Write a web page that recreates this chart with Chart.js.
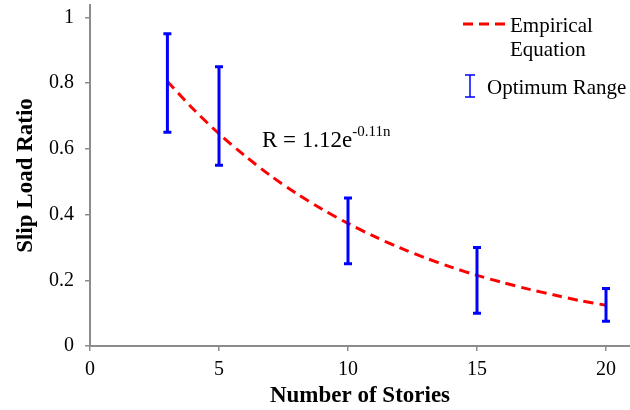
<!DOCTYPE html>
<html>
<head>
<meta charset="utf-8">
<script src="https://cdn.jsdelivr.net/npm/chart.js@4.4.0/dist/chart.umd.min.js"></script>
<style>
  html, body { margin: 0; padding: 0; background: #fff; }
  #wrap { width: 630px; height: 410px; }
</style>
</head>
<body>
<div id="wrap"><canvas id="chart" width="630" height="410"></canvas></div>
<script>
// empirical curve R = 1.12e^-0.11n, read at whole story counts
const curveStories = [3, 4, 5, 6, 7, 8, 9, 10, 11, 12, 13, 14, 15, 16, 17, 18, 19, 20];
const curveRatio = [0.805, 0.721, 0.646, 0.579, 0.518, 0.464, 0.416, 0.373, 0.334, 0.299, 0.268, 0.240, 0.215, 0.193, 0.173, 0.155, 0.138, 0.124];

// optimum range bars
const rangeStories = [3, 5, 10, 15, 20];
const rangeLow = [0.65, 0.55, 0.25, 0.10, 0.075];
const rangeHigh = [0.95, 0.85, 0.45, 0.30, 0.175];

const xTicks = [0, 5, 10, 15, 20];
const yTicks = [0, 0.2, 0.4, 0.6, 0.8, 1];

const serif = "'Liberation Serif', 'Times New Roman', serif";
const axisGrey = '#8c8c8c';

const rangeBars = {
    id: 'rangeBars',
    afterDatasetsDraw(chart) {
        const { ctx, scales: { x, y } } = chart;
        ctx.save();
        ctx.strokeStyle = '#0000ff';
        ctx.lineWidth = 3;
        rangeStories.forEach((n, i) => {
            const px = x.getPixelForValue(n);
            const top = y.getPixelForValue(rangeHigh[i]);
            const bot = y.getPixelForValue(rangeLow[i]);
            ctx.beginPath();
            ctx.moveTo(px, top);
            ctx.lineTo(px, bot);
            ctx.moveTo(px - 4, top);
            ctx.lineTo(px + 4, top);
            ctx.moveTo(px - 4, bot);
            ctx.lineTo(px + 4, bot);
            ctx.stroke();
        });
        ctx.restore();
    }
};

const extras = {
    id: 'extras',
    afterDraw(chart) {
        const ctx = chart.ctx;
        ctx.save();
        ctx.fillStyle = '#000';
        ctx.textBaseline = 'alphabetic';

        // equation label
        ctx.font = '23px ' + serif;
        const base = 'R = 1.12e';
        ctx.fillText(base, 262, 147);
        const w = ctx.measureText(base).width;
        ctx.font = '15px ' + serif;
        ctx.fillText('-0.11n', 262 + w, 136);

        // legend
        ctx.strokeStyle = '#ff0000';
        ctx.lineWidth = 3;
        ctx.setLineDash([10, 6]);
        ctx.beginPath();
        ctx.moveTo(463, 24);
        ctx.lineTo(508, 24);
        ctx.stroke();
        ctx.setLineDash([]);

        ctx.font = '21px ' + serif;
        ctx.fillText('Empirical', 510, 32);
        ctx.fillText('Equation', 510, 56);

        ctx.strokeStyle = '#0000ff';
        ctx.lineWidth = 1.5;
        ctx.beginPath();
        ctx.moveTo(470, 75);
        ctx.lineTo(470, 97);
        ctx.moveTo(465, 75);
        ctx.lineTo(475, 75);
        ctx.moveTo(465, 97);
        ctx.lineTo(475, 97);
        ctx.stroke();
        ctx.fillText('Optimum Range', 487, 94);
        ctx.restore();
    }
};

new Chart(document.getElementById('chart'), {
    type: 'line',
    data: {
        datasets: [{
            label: 'Empirical Equation',
            data: curveStories.map((n, i) => ({ x: n, y: curveRatio[i] })),
            borderColor: '#ff0000',
            borderWidth: 3,
            borderDash: [10, 6],
            pointRadius: 0,
            tension: 0.3,
            fill: false
        }]
    },
    options: {
        responsive: false,
        animation: false,
        layout: { padding: { top: 5, right: 0, left: 0, bottom: 0 } },
        plugins: {
            legend: { display: false },
            tooltip: { enabled: false }
        },
        scales: {
            x: {
                type: 'linear',
                min: 0,
                max: 20.93,
                afterBuildTicks: (s) => { s.ticks = xTicks.map(v => ({ value: v })); },
                afterFit: (s) => { s.height = 64; s.paddingLeft = 0; s.paddingRight = 0; },
                ticks: {
                    color: '#000',
                    font: { family: serif, size: 20 },
                    padding: 7,
                    maxRotation: 0
                },
                grid: { drawOnChartArea: false, drawTicks: true, tickLength: 5, color: axisGrey, lineWidth: 1.5 },
                border: { color: axisGrey, width: 2 },
                title: {
                    display: true,
                    text: 'Number of Stories',
                    color: '#000',
                    font: { family: serif, size: 23, weight: 'bold' },
                    padding: { top: 0, bottom: 0 }
                }
            },
            y: {
                min: 0,
                max: 1.0375,
                afterBuildTicks: (s) => { s.ticks = yTicks.map(v => ({ value: v })); },
                afterFit: (s) => { s.width = 90; s.paddingTop = 0; s.paddingBottom = 0; },
                ticks: {
                    color: '#000',
                    font: { family: serif, size: 20 },
                    padding: 11,
                    callback: (v) => String(Math.round(v * 10) / 10)
                },
                grid: { drawOnChartArea: false, drawTicks: true, tickLength: 5, color: axisGrey, lineWidth: 1.5 },
                border: { color: axisGrey, width: 2 },
                title: {
                    display: true,
                    text: 'Slip Load Ratio',
                    color: '#000',
                    font: { family: serif, size: 23, weight: 'bold' },
                    padding: { top: 12, bottom: 0 }
                }
            }
        }
    },
    plugins: [rangeBars, extras]
});
</script>
</body>
</html>
